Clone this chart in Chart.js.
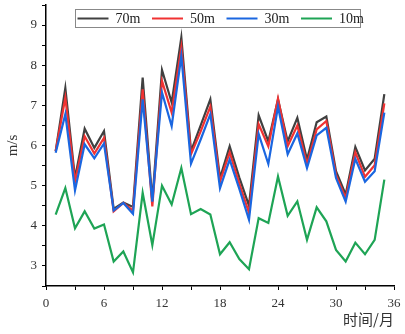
<!DOCTYPE html>
<html>
<head>
<meta charset="utf-8">
<script src="https://cdn.jsdelivr.net/npm/chart.js@4/dist/chart.umd.min.js"></script>
<style>
  body { margin: 0; background: #fff; }
</style>
</head>
<body>
<canvas id="windChart" width="405" height="334"></canvas>
<script>
const months = [1,2,3,4,5,6,7,8,9,10,11,12,13,14,15,16,17,18,19,20,21,22,23,24,25,26,27,28,29,30,31,32,33,34,35];

const h70 = [5.86,7.43,5.19,6.42,5.94,6.36,4.42,4.58,4.47,7.69,4.62,7.88,7.07,8.69,5.86,6.5,7.15,5.19,5.98,5.2,4.5,6.75,6.1,7.15,6.1,6.69,5.65,6.58,6.72,5.36,4.78,5.96,5.38,5.67,7.28];
const h50 = [5.86,7.19,5.1,6.23,5.8,6.19,4.36,4.57,4.38,7.4,4.48,7.61,6.82,8.44,5.78,6.35,6.97,5.1,5.83,5.05,4.32,6.53,5.98,7.17,5.98,6.5,5.53,6.4,6.61,5.27,4.69,5.83,5.22,5.51,7.05];
const h30 = [5.82,6.78,4.88,6.03,5.68,6.05,4.38,4.57,4.3,7.15,4.6,7.32,6.48,8.23,5.55,6.15,6.78,4.94,5.65,4.92,4.15,6.29,5.54,6.97,5.78,6.3,5.44,6.25,6.44,5.19,4.6,5.67,5.1,5.36,6.82];
const h10 = [4.28,4.94,3.94,4.36,3.93,4.03,3.11,3.36,2.84,4.82,3.52,5.0,4.53,5.44,4.29,4.42,4.28,3.29,3.59,3.17,2.92,4.19,4.07,5.23,4.25,4.61,3.65,4.46,4.11,3.4,3.11,3.58,3.29,3.65,5.15];

const labels = ["70m", "50m", "30m", "10m"];
const colors = ["#404040", "#f03232", "#1a66e0", "#1ea455"];

const toPoints = (arr) => arr.map((v, i) => ({ x: months[i], y: v }));

const serif = "'Liberation Serif', 'DejaVu Serif', serif";

// legend box drawn inside the plot, like the original
const insideLegend = {
  id: "insideLegend",
  afterDraw(chart) {
    const ctx = chart.ctx;
    const area = chart.chartArea;
    const bx = area.left + 29.5;
    const by = 9.5;
    ctx.save();
    ctx.fillStyle = "#fff";
    ctx.fillRect(bx, by, 285, 18);
    ctx.strokeStyle = "#888";
    ctx.lineWidth = 1;
    ctx.strokeRect(bx, by, 285, 18);
    ctx.font = "14px " + serif;
    ctx.textBaseline = "middle";
    chart.data.datasets.forEach((ds, i) => {
      const x0 = bx + 2 + i * 74.5;
      ctx.strokeStyle = ds.borderColor;
      ctx.lineWidth = 2;
      ctx.beginPath();
      ctx.moveTo(x0, by + 9);
      ctx.lineTo(x0 + 31, by + 9);
      ctx.stroke();
      ctx.fillStyle = "#222";
      ctx.fillText(ds.label, x0 + 38, by + 10);
    });
    ctx.restore();
  },
};

let ctx = document.getElementById("windChart").getContext("2d");

window.windChart = new Chart(ctx, {
  type: "line",
  data: {
    datasets: [
      { label: labels[0], data: toPoints(h70), borderColor: colors[0], order: 3 },
      { label: labels[1], data: toPoints(h50), borderColor: colors[1], order: 2 },
      { label: labels[2], data: toPoints(h30), borderColor: colors[2], order: 1 },
      { label: labels[3], data: toPoints(h10), borderColor: colors[3], order: 0 },
    ],
  },
  options: {
    responsive: false,
    animation: false,
    layout: { padding: { left: 0, top: 5, right: 11, bottom: 6 } },
    elements: {
      line: { borderWidth: 2.2, tension: 0, borderJoinStyle: "miter" },
      point: { radius: 0 },
    },
    scales: {
      x: {
        type: "linear",
        min: 0,
        max: 36,
        afterFit: (scale) => {
          scale.height = 42;
          scale.paddingLeft = 0;
          scale.paddingRight = 0;
        },
        grid: { drawOnChartArea: false, drawTicks: true, tickLength: 4, color: "#000" },
        border: { display: true, color: "#000", width: 1.5 },
        ticks: {
          stepSize: 3,
          color: "#333",
          font: { family: serif, size: 13 },
          padding: 6,
          maxRotation: 0,
          callback: (v) => (v % 6 === 0 ? v : ""),
        },
        title: {
          display: true,
          text: "时间/月",
          align: "end",
          color: "#333",
          font: { family: "'Noto Sans CJK SC', sans-serif", size: 15 },
          padding: { top: 0, bottom: 0 },
        },
      },
      y: {
        min: 2.5,
        max: 9.5,
        afterFit: (scale) => {
          scale.width = 46;
          scale.paddingTop = 0;
          scale.paddingBottom = 0;
        },
        grid: { drawOnChartArea: false, drawTicks: true, tickLength: 4, color: "#000" },
        border: { display: true, color: "#000", width: 1.5 },
        ticks: {
          stepSize: 0.5,
          color: "#333",
          font: { family: serif, size: 13 },
          padding: 5,
          callback: (v) => (Number.isInteger(v) ? v : ""),
        },
        title: {
          display: true,
          text: "m/s",
          color: "#333",
          font: { family: serif, size: 15 },
          padding: { top: 4, bottom: 4 },
        },
      },
    },
    plugins: {
      legend: { display: false },
      tooltip: { enabled: false },
    },
  },
  plugins: [insideLegend],
});
</script>
</body>
</html>
